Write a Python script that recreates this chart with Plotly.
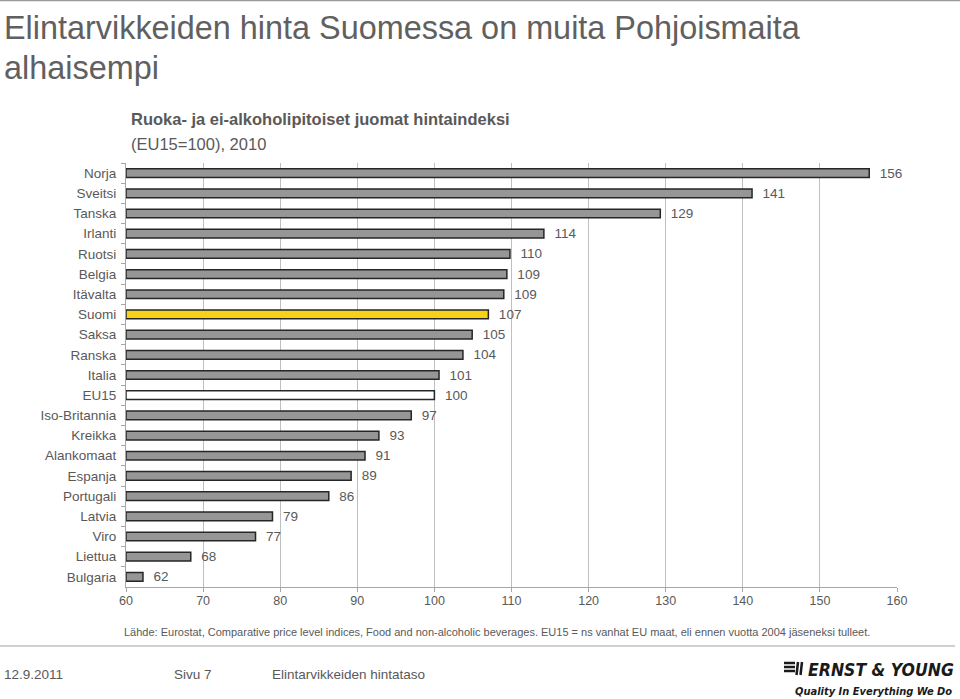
import plotly.graph_objects as go

categories = ["Norja", "Sveitsi", "Tanska", "Irlanti", "Ruotsi", "Belgia", "Itävalta",
              "Suomi", "Saksa", "Ranska", "Italia", "EU15", "Iso-Britannia", "Kreikka",
              "Alankomaat", "Espanja", "Portugali", "Latvia", "Viro", "Liettua", "Bulgaria"]
values = [156.4, 141.2, 129.3, 114.2, 109.8, 109.4, 109.0, 107.0, 104.9, 103.7, 100.6,
          100.0, 97.0, 92.8, 91.0, 89.2, 86.3, 79.0, 76.8, 68.4, 62.2]
labels = [156, 141, 129, 114, 110, 109, 109, 107, 105, 104, 101, 100, 97, 93, 91, 89,
          86, 79, 77, 68, 62]
x_ticks = [60, 70, 80, 90, 100, 110, 120, 130, 140, 150, 160]

GRAY_TXT = "#595959"
fills = []
for c in categories:
    if c == "Suomi":
        fills.append("#F7D117")
    elif c == "EU15":
        fills.append("#FFFFFF")
    else:
        fills.append("#969696")

FONT = "Liberation Sans, Arial, sans-serif"

fig = go.Figure()
fig.add_trace(go.Bar(
    y=categories, x=[v - 60 for v in values], base=60, orientation="h",
    marker=dict(color=fills, line=dict(color="#262626", width=1.5)),
    text=["  " + str(l) for l in labels], textposition="outside", constraintext="none",
    textfont=dict(color=GRAY_TXT, size=13.5, family=FONT),
    cliponaxis=False, hoverinfo="skip", width=0.43,
))

W, H = 960, 699
L, R, T, B = 126, 63, 163, 112
pw, ph = W - L - R, H - T - B

fig.update_layout(
    width=W, height=H,
    margin=dict(l=L, r=R, t=T, b=B),
    paper_bgcolor="white", plot_bgcolor="white",
    showlegend=False,
    font=dict(family=FONT, color=GRAY_TXT),
    xaxis=dict(range=[60, 160], tickvals=x_ticks, showgrid=True, gridcolor="#BFBFBF",
               gridwidth=1, showline=True, linecolor="#A6A6A6", ticks="outside",
               ticklen=4, tickcolor="#A6A6A6", tickfont=dict(size=12.5, color=GRAY_TXT),
               ticklabelstandoff=-2, zeroline=False, automargin=False),
    yaxis=dict(autorange="reversed", showline=True, linecolor="#A6A6A6",
               ticks="outside", tickson="boundaries", ticklen=4, tickcolor="#A6A6A6",
               tickfont=dict(size=13.5, color=GRAY_TXT), ticklabelstandoff=6,
               showgrid=False, automargin=False),
)


def to_paper(px, py):
    return (px - L) / pw, 1 - (py - T) / ph


ann = [
    dict(text="Elintarvikkeiden hinta Suomessa on muita Pohjoismaita", x=2, y=28,
         font=dict(size=32.4, color="#606060")),
    dict(text="alhaisempi", x=2, y=68, font=dict(size=32.4, color="#606060")),
    dict(text="<b>Ruoka- ja ei-alkoholipitoiset juomat hintaindeksi</b>", x=129, y=119,
         font=dict(size=16.5, color=GRAY_TXT)),
    dict(text="(EU15=100), 2010", x=129, y=144, font=dict(size=16.5, color=GRAY_TXT)),
    dict(text="Lähde: Eurostat, Comparative price level indices, Food and non-alcoholic beverages. "
              "EU15 = ns vanhat EU maat, eli ennen vuotta 2004 jäseneksi tulleet.",
         x=122, y=632, font=dict(size=11, color=GRAY_TXT)),
    dict(text="12.9.2011", x=2, y=674, font=dict(size=13.5, color=GRAY_TXT)),
    dict(text="Sivu 7", x=172, y=674, font=dict(size=13.5, color=GRAY_TXT)),
    dict(text="Elintarvikkeiden hintataso", x=270, y=674, font=dict(size=13.5, color=GRAY_TXT)),
]
annotations = []
for a in ann:
    xp, yp = to_paper(a["x"], a["y"])
    annotations.append(dict(text=a["text"], x=xp, y=yp,
                            xref="paper", yref="paper", xanchor="left", yanchor="middle",
                            showarrow=False, font=dict(family=FONT, **a["font"])))
# logo texts, right aligned
for txt, px, py, size in [("<b><i>ERNST &amp; YOUNG</i></b>", 956, 670, 17.5),
                          ("<b><i>Quality In Everything We Do</i></b>", 954, 691, 11)]:
    xp, yp = to_paper(px, py)
    annotations.append(dict(text=txt, x=xp, y=yp, xref="paper", yref="paper",
                            xanchor="right", yanchor="middle", showarrow=False,
                            font=dict(family="DejaVu Sans Condensed, Liberation Sans Narrow, "
                                             "Liberation Sans, sans-serif",
                                      size=size, color="#1A1A1A")))
fig.update_layout(annotations=annotations)

# footer separator line, top line and logo icon
shapes = []
x0, y0 = to_paper(0, 646)
x1, _ = to_paper(955, 646)
shapes.append(dict(type="line", xref="paper", yref="paper", x0=x0, x1=x1, y0=y0, y1=y0,
                   line=dict(color="#D0D0D0", width=2)))
x0, y0 = to_paper(0, 0.5)
x1, _ = to_paper(960, 0.5)
shapes.append(dict(type="line", xref="paper", yref="paper", x0=x0, x1=x1, y0=y0, y1=y0,
                   line=dict(color="#9A9A9A", width=1.5)))
for yy in [663, 667, 671]:
    a0, b0 = to_paper(784, yy)
    a1, _ = to_paper(795, yy)
    shapes.append(dict(type="line", xref="paper", yref="paper", x0=a0, x1=a1, y0=b0, y1=b0,
                       line=dict(color="#1A1A1A", width=2.5)))
for xx in [798, 802]:
    a0, b0 = to_paper(xx, 662)
    a1, b1 = to_paper(xx - 1.5, 675)
    shapes.append(dict(type="line", xref="paper", yref="paper", x0=a0, x1=a1, y0=b0, y1=b1,
                       line=dict(color="#1A1A1A", width=2.5)))
fig.update_layout(shapes=shapes)

fig.write_html("out.html", config={"displayModeBar": False},
               post_script="document.body.style.margin='0';")
